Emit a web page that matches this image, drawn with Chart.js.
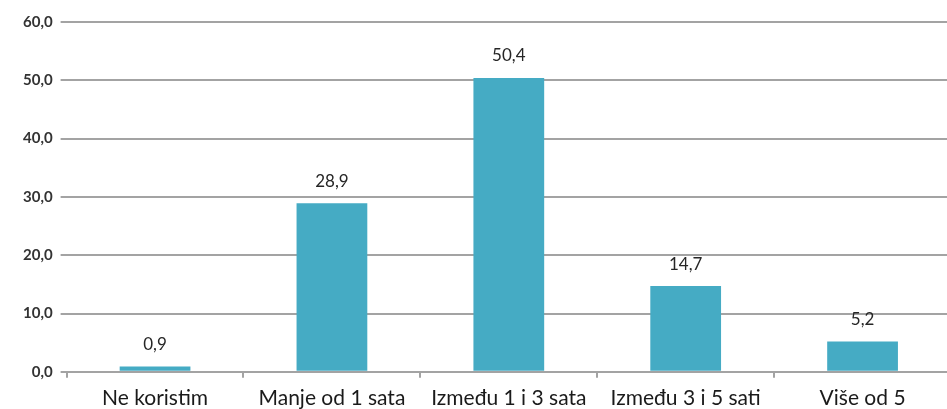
<!DOCTYPE html>
<html>
<head>
<meta charset="utf-8">
<script src="https://cdn.jsdelivr.net/npm/chart.js@4/dist/chart.umd.min.js"></script>
<style>
  html, body { margin: 0; padding: 0; background: #fff; overflow: hidden; }
  #wrap { width: 947px; height: 409px; overflow: hidden; }
  #wrap canvas { display: block; }
</style>
</head>
<body>
<div id="wrap"><canvas id="barChart" width="951" height="419"></canvas></div>
<script>
/* data */
const categories = ['Ne koristim', 'Manje od 1 sata', 'Između 1 i 3 sata', 'Između 3 i 5 sati', 'Više od 5'];
const values = [0.9, 28.9, 50.4, 14.7, 5.2];
const yTicks = [0, 10, 20, 30, 40, 50, 60];

const BAR_COLOR = '#45abc4';
const GRID_COLOR = '#a3a3a3';
const FONT = 'Lato, "Open Sans", sans-serif';

function fmt(v) { return v.toFixed(1).replace('.', ','); }

/* value labels above bars */
const valueLabels = {
  id: 'valueLabels',
  afterDatasetsDraw(chart) {
    const ctx = chart.ctx;
    const meta = chart.getDatasetMeta(0);
    ctx.save();
    ctx.font = '17px ' + FONT;
    ctx.fillStyle = '#262626';
    ctx.textAlign = 'center';
    ctx.textBaseline = 'middle';
    meta.data.forEach((bar, i) => {
      ctx.fillText(fmt(values[i]), bar.x, bar.y - 22);
    });
    ctx.restore();
  }
};

new Chart(document.getElementById('barChart').getContext('2d'), {
  type: 'bar',
  data: {
    labels: categories,
    datasets: [{
      data: values,
      backgroundColor: BAR_COLOR,
      barPercentage: 0.4,
      categoryPercentage: 1
    }]
  },
  options: {
    responsive: false,
    animation: false,
    layout: { padding: { top: 22, right: 0, left: 15, bottom: 0 } },
    plugins: { legend: { display: false }, tooltip: { enabled: false } },
    scales: {
      x: {
        grid: { drawOnChartArea: false, drawTicks: true, tickLength: 6, color: GRID_COLOR, lineWidth: 2 },
        border: { display: false },
        ticks: { color: '#1a1a1a', font: { family: FONT, size: 21 }, padding: 8, maxRotation: 0, autoSkip: false }
      },
      y: {
        min: 0,
        max: 60,
        afterBuildTicks(axis) { axis.ticks = yTicks.map(v => ({ value: v })); },
        grid: { color: GRID_COLOR, lineWidth: 2, drawTicks: true, tickLength: 6 },
        border: { display: false },
        ticks: {
          color: '#333',
          font: { family: FONT, size: 15, weight: 'bold' },
          padding: 8,
          callback: v => fmt(v)
        }
      }
    }
  },
  plugins: [valueLabels]
});
</script>
</body>
</html>
